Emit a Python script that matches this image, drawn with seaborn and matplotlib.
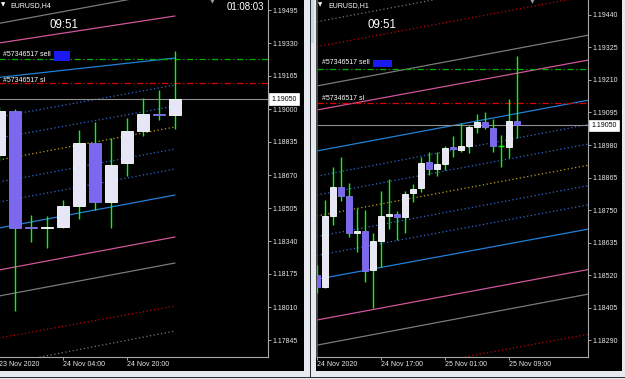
import matplotlib
matplotlib.use("Agg")
import numpy as np
import matplotlib.pyplot as plt
import matplotlib.transforms as mtransforms
from matplotlib.patches import Rectangle
import seaborn as sns

# ---------------- data: EURUSD H4 (left chart) ----------------
h4_open = [1.18770, 1.18990, 1.18410, 1.18405, 1.18410, 1.18515, 1.18830, 1.18535, 1.18730, 1.18890, 1.18975, 1.18970]
h4_high = [1.19010, 1.19000, 1.18470, 1.18465, 1.18545, 1.18895, 1.18935, 1.18855, 1.18955, 1.19055, 1.19095, 1.19290]
h4_low = [1.18745, 1.17990, 1.18335, 1.18305, 1.18405, 1.18450, 1.18495, 1.18405, 1.18665, 1.18865, 1.18945, 1.18900]
h4_close = [1.18990, 1.18405, 1.18405, 1.18410, 1.18515, 1.18830, 1.18535, 1.18720, 1.18890, 1.18975, 1.18970, 1.19050]
h4_tick_idx = [0, 4, 8]
h4_tick_labels = ["23 Nov 2020", "24 Nov 04:00", "24 Nov 20:00"]
h4_yticks = [1.19495, 1.19330, 1.19165, 1.19000, 1.18835, 1.18670, 1.18505, 1.18340, 1.18175, 1.18010, 1.17845]
h4_channel_start = [1.19428, 1.19330, 1.19158, 1.18960, 1.18855, 1.18745, 1.18635, 1.18535, 1.18405, 1.18195, 1.18065, 1.17855, 1.17720]
h4_channel_end = [1.19590, 1.19465, 1.19255, 1.19120, 1.19015, 1.18910, 1.18800, 1.18700, 1.18570, 1.18360, 1.18230, 1.18015, 1.17890]

# ---------------- data: EURUSD H1 (right chart) ----------------
h1_open = [1.18520, 1.18478, 1.18729, 1.18831, 1.18800, 1.18669, 1.18676, 1.18538, 1.18640, 1.18729, 1.18736, 1.18725, 1.18810,
           1.18828, 1.18920, 1.18895, 1.18913, 1.18973, 1.18962, 1.18976, 1.19044, 1.19061, 1.19040, 1.18976, 1.18973, 1.19065]
h1_high = [1.18555, 1.18785, 1.18902, 1.18938, 1.18846, 1.18757, 1.18750, 1.18669, 1.18817, 1.18860, 1.18746, 1.18817, 1.18842,
           1.18938, 1.18955, 1.18955, 1.18976, 1.19012, 1.19058, 1.19051, 1.19090, 1.19097, 1.19072, 1.19015, 1.19143, 1.19295]
h1_low = [1.18456, 1.18474, 1.18697, 1.18782, 1.18654, 1.18601, 1.18495, 1.18403, 1.18548, 1.18683, 1.18644, 1.18669, 1.18778,
          1.18814, 1.18874, 1.18870, 1.18892, 1.18938, 1.18955, 1.18952, 1.19022, 1.19037, 1.18955, 1.18902, 1.18934, 1.19005]
h1_close = [1.18478, 1.18729, 1.18831, 1.18800, 1.18669, 1.18676, 1.18534, 1.18640, 1.18729, 1.18736, 1.18725, 1.18807, 1.18824,
            1.18916, 1.18895, 1.18913, 1.18969, 1.18966, 1.18976, 1.19044, 1.19061, 1.19044, 1.18976, 1.18976, 1.19065, 1.19050]
h1_tick_idx = [0, 8, 16, 24]
h1_tick_labels = ["24 Nov 2020", "24 Nov 17:00", "25 Nov 01:00", "25 Nov 09:00"]
h1_yticks = [1.19440, 1.19325, 1.19210, 1.19095, 1.18980, 1.18865, 1.18750, 1.18635, 1.18520, 1.18405, 1.18290]
h1_channel_start = [1.19416, 1.19328, 1.19189, 1.19104, 1.18959, 1.18870, 1.18803, 1.18729, 1.18656, 1.18589, 1.18505, 1.18361, 1.18272, 1.18134]
h1_channel_end = [1.19597, 1.19508, 1.19369, 1.19281, 1.19139, 1.19053, 1.18984, 1.18909, 1.18837, 1.18769, 1.18683, 1.18540, 1.18453, 1.18311]

current_price = 1.19050
order_sell_price = 1.19250
order_sl_price = 1.19130
order_id = "#57346517"

# ---------------- styles ----------------
GREY = "#7A7A7A"; PINK = "#D0559A"; BLUE = "#2080D8"; BLUED = "#3068D0"; YEL = "#C0A020"; RED = "#C80000"; GREYD = "#787878"
SOLID = "-"; DOT = (0, (1, 2))
h4_channel_style = [(GREY, SOLID), (PINK, SOLID), (BLUE, SOLID), (BLUED, DOT), (BLUED, DOT), (YEL, DOT), (BLUED, DOT),
                    (BLUED, DOT), (BLUE, SOLID), (PINK, SOLID), (GREY, SOLID), (RED, DOT), (GREYD, DOT)]
h1_channel_style = [(GREYD, DOT), (RED, DOT), (GREY, SOLID), (PINK, SOLID), (BLUE, SOLID), (BLUED, DOT), (BLUED, DOT),
                    (YEL, DOT), (BLUED, DOT), (BLUED, DOT), (BLUE, SOLID), (PINK, SOLID), (GREY, SOLID), (RED, DOT)]

W, H = 625, 379
sns.set_theme(style="dark")
plt.rcParams['font.family'] = ['Liberation Sans', 'DejaVu Sans']

fig = plt.figure(figsize=(W / 100, H / 100), dpi=100)
fig.patch.set_facecolor('#E6EAEE')


def frect(x0, y0, x1, y1, color, z=-5):
    r = Rectangle((x0 / W, 1 - y1 / H), (x1 - x0) / W, (y1 - y0) / H, transform=fig.transFigure,
                  facecolor=color, edgecolor='none', zorder=z)
    fig.add_artist(r)


def ftext(x, y, s, **kw):
    fig.text(x / W, 1 - y / H, s, **kw)


# window backgrounds
frect(0, 0, 304, 371, 'black')
frect(316, 0, 622, 371, 'black')
frect(309.5, 0, 310.5, 377, '#2E3238')
frect(311, 0, 314, 43, '#C9D6E4')
frect(0, 376.5, 625, 377.5, '#2E3238')

ax1 = fig.add_axes([-1 / W, (H - 357) / H, 269 / W, 357 / H])
ax2 = fig.add_axes([317 / W, (H - 357) / H, 271 / W, 357 / H])

WICK = '#00FF00'
UPF, UPE = '#E6E6F6', '#FFFFFF'
DNF, DNE = '#7B68EE', '#8474F0'


def candles(ax, o, h, l, c, width):
    o, h, l, c = map(np.asarray, (o, h, l, c))
    x = np.arange(len(o))
    ax.vlines(x, l, h, color=WICK, lw=1.0, zorder=3)
    up = c > o
    dn = c < o
    eq = c == o
    ax.bar(x[up], (c - o)[up], bottom=o[up], width=width, color=UPF, edgecolor=UPE, lw=0.6, zorder=4)
    ax.bar(x[dn], (o - c)[dn], bottom=c[dn], width=width, color=DNF, edgecolor=DNE, lw=0.6, zorder=4)
    if eq.any():
        ax.hlines(c[eq], x[eq] - width / 2, x[eq] + width / 2, color=WICK, lw=1.0, zorder=4)


def channel(ax, starts, ends, styles, x0, x1):
    for p0, p1, (col, ls) in zip(starts, ends, styles):
        sns.lineplot(x=[x0, x1], y=[p0, p1], ax=ax, color=col, linestyle=ls, lw=0.9, zorder=2, legend=False)


def style_axis(ax, yticks, xticks, xlabels, left_spine=False):
    ax.set_facecolor('black')
    ax.grid(False)
    ax.set_xlabel(''); ax.set_ylabel('')
    for s in ['top', 'left']:
        ax.spines[s].set_visible(False)
    for s in ['right', 'bottom']:
        ax.spines[s].set_visible(True)
        ax.spines[s].set_color('#A8A8A8')
        ax.spines[s].set_linewidth(0.8)
    if left_spine:
        ax.spines['left'].set_visible(True)
        ax.spines['left'].set_color('#5A5A5A')
        ax.spines['left'].set_linewidth(1.2)
    ax.yaxis.tick_right()
    ax.set_yticks(yticks)
    ax.set_yticklabels([f"{t:.5f}" for t in yticks])
    ax.set_xticks(xticks)
    ax.set_xticklabels(xlabels)
    for lab in ax.get_xticklabels():
        lab.set_horizontalalignment('left')
    ax.tick_params(axis='y', which='both', right=True, labelright=True, left=False, labelleft=False,
                   length=2, width=0.7, color='#A8A8A8', pad=1.3, labelsize=5, labelcolor='#E8E8E8')
    ax.tick_params(axis='x', which='both', bottom=True, labelbottom=True, length=2.2, width=0.7,
                   color='#A8A8A8', pad=0.8, labelsize=5, labelcolor='#E8E8E8')


def price_box(ax, axw):
    tr = mtransforms.blended_transform_factory(ax.transAxes, ax.transData)
    ax.text(1 + 3.5 / axw, current_price, f"{current_price:.5f}", transform=tr, ha='left', va='center', fontsize=5,
            color='black', clip_on=False, zorder=20,
            bbox=dict(boxstyle='square,pad=0.3', fc='white', ec='white', lw=0.5))


DASHDOT = (0, (5, 2, 1, 2))

# ---- left chart ----
channel(ax1, h4_channel_start, h4_channel_end, h4_channel_style, 0, len(h4_open) - 1)
ax1.axhline(order_sell_price, color='#00B000', lw=0.9, ls=DASHDOT, zorder=2)
ax1.axhline(order_sl_price, color='#E00000', lw=0.9, ls=DASHDOT, zorder=2)
ax1.axhline(current_price, color='#909090', lw=0.8, zorder=2)
candles(ax1, h4_open, h4_high, h4_low, h4_close, 0.75)
style_axis(ax1, h4_yticks, h4_tick_idx, h4_tick_labels)
ax1.set_xlim(0, 269 / 16)
ax1.set_ylim(1.17760, 1.19545)
price_box(ax1, 269)

# ---- right chart ----
channel(ax2, h1_channel_start, h1_channel_end, h1_channel_style, 0, 34)
ax2.axhline(order_sell_price, color='#00B000', lw=0.9, ls=DASHDOT, zorder=2)
ax2.axhline(order_sl_price, color='#E00000', lw=0.9, ls=DASHDOT, zorder=2)
ax2.axhline(current_price, color='#909090', lw=0.8, zorder=2)
candles(ax2, h1_open, h1_high, h1_low, h1_close, 0.68)
style_axis(ax2, h1_yticks, h1_tick_idx, h1_tick_labels, left_spine=True)
ax2.set_xlim(0, 271 / 8)
ax2.set_ylim(1.18230, 1.19493)
price_box(ax2, 271)

# ---- chart annotations ----
TW = dict(color='white', fontsize=5, va='center', ha='left', zorder=30)
ftext(1, 5, "▼", color='white', fontsize=4, va='center', ha='left', family='DejaVu Sans', zorder=30)
ftext(10, 5.5, "EURUSD,H4", **TW)
ftext(318, 5, "▼", color='white', fontsize=4, va='center', ha='left', family='DejaVu Sans', zorder=30)
ftext(328, 5.5, "EURUSD,H1", **TW)
ftext(212, 2, "▼", color='#9A9A9A', fontsize=4.5, va='center', ha='center', family='DejaVu Sans', zorder=30)
ftext(532, 2, "▼", color='#9A9A9A', fontsize=4.5, va='center', ha='center', family='DejaVu Sans', zorder=30)
ftext(264, 6.5, "01:08:03", color='white', fontsize=7, va='center', ha='right', zorder=30)
ftext(49, 25, "09:51", color='white', fontsize=8.3, va='center', ha='left', zorder=30)
ftext(367, 25, "09:51", color='white', fontsize=8.3, va='center', ha='left', zorder=30)
ftext(3, 55, f"{order_id} sell", **TW)
ftext(3, 80, f"{order_id} sl", **TW)
ftext(322, 63, f"{order_id} sell", **TW)
ftext(322, 98.5, f"{order_id} sl", **TW)
frect(54, 51, 70, 61, '#1A1AF0', z=30)
frect(373, 60, 392, 66.5, '#1A1AF0', z=30)

fig.savefig("out.png", dpi=100, facecolor=fig.get_facecolor())
